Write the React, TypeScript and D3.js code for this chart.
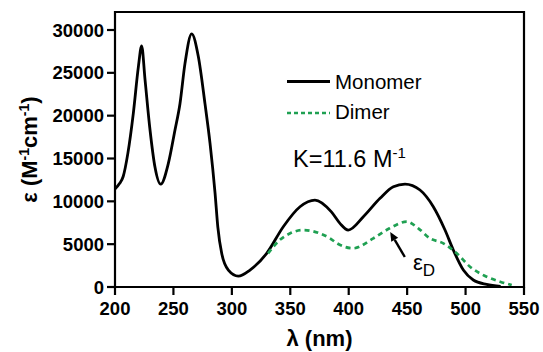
import * as d3 from 'd3';

const monoLambda = [200, 204, 207, 211, 215.7, 220, 222.8, 225.7, 230, 234.2, 239.1, 245.6, 251.3, 255.6, 259.9, 265.6, 271.3, 277, 281.3, 285.6, 288, 291.3, 297, 305.5, 315.5, 329.8, 344, 358.3, 371.1, 385, 392.5, 399.6, 412.5, 426.8, 438.2, 448.2, 461, 472.4, 482.4, 489.5, 498.1, 506.6, 518, 530];
const monoEps = [11450, 12100, 12900, 15600, 20300, 25700, 28150, 24200, 18300, 14000, 12000, 14400, 18300, 21400, 26100, 29550, 26900, 21400, 16800, 11000, 7000, 3930, 1980, 1280, 1980, 3930, 7040, 9370, 10150, 8800, 7430, 6650, 8200, 10350, 11700, 12020, 11320, 9370, 6650, 4320, 1980, 820, 300, 60];

const dimerLambda = [331, 341, 350, 361, 375, 384, 390, 404, 421, 435, 449.6, 459.5, 469.5, 481, 492.4, 503.8, 518, 529.5, 539.5];
const dimerEps = [3930, 5490, 6270, 6650, 6270, 5680, 5100, 4520, 5680, 6850, 7630, 6850, 5680, 5100, 3930, 2370, 1200, 620, 230];

const xTicks = [200, 250, 300, 350, 400, 450, 500, 550];
const yTicks = [0, 5000, 10000, 15000, 20000, 25000, 30000];

// annotation arrow (data coords): tail -> head
const arrowTail = [448, 3500];
const arrowHead = [435.5, 6420];
const labelPos = [455, 1980];

const W = 543;
const H = 352;
const m = { left: 115, right: 19, top: 12, bottom: 65 };
const FONT = 'Liberation Sans, Arial, sans-serif';
const GREEN = '#1fa052';

export default function App() {
  const x = d3.scaleLinear().domain([200, 550]).range([m.left, W - m.right]);
  const y = d3.scaleLinear().domain([0, 30000]).range([H - m.bottom, H - m.bottom - 257]);
  const yTop = m.top;
  const y0 = y(0);
  const xL = x(200);
  const xR = x(550);

  const line = d3
    .line<[number, number]>()
    .x(d => x(d[0]))
    .y(d => y(d[1]))
    .curve(d3.curveMonotoneX);

  const mono = monoLambda.map((l, i) => [l, monoEps[i]] as [number, number]);
  const dimer = dimerLambda.map((l, i) => [l, dimerEps[i]] as [number, number]);

  const ax1 = x(arrowTail[0]);
  const ay1 = y(arrowTail[1]);
  const ax2 = x(arrowHead[0]);
  const ay2 = y(arrowHead[1]);
  const ang = Math.atan2(ay2 - ay1, ax2 - ax1);
  const hl = 9;
  const hw = 4;
  const bx = ax2 - hl * Math.cos(ang);
  const by = ay2 - hl * Math.sin(ang);
  const head = `M${ax2},${ay2} L${bx + hw * Math.sin(ang)},${by - hw * Math.cos(ang)} L${bx - hw * Math.sin(ang)},${by + hw * Math.cos(ang)} Z`;

  return (
    <svg
      width={W}
      height={H}
      style={{ position: 'absolute', left: 0, top: 0, background: '#fff' }}
      fontFamily={FONT}
    >
      <rect width={W} height={H} fill="#fff" />
      {/* curves */}
      <path d={line(mono) ?? ''} fill="none" stroke="#000" strokeWidth={2.8} strokeLinejoin="round" />
      <path d={line(dimer) ?? ''} fill="none" stroke={GREEN} strokeWidth={2.7} strokeDasharray="5,4" />

      {/* frame */}
      <path d={`M${xL},${yTop} H${xR} V${y0} H${xL} Z`} fill="none" stroke="#000" strokeWidth={2.2} />

      {/* x ticks */}
      {xTicks.map(t => (
        <g key={t}>
          <line x1={x(t)} x2={x(t)} y1={y0} y2={y0 + 8} stroke="#000" strokeWidth={2.2} />
          <text x={x(t)} y={y0 + 28} textAnchor="middle" fontSize={18.5} fontWeight="bold">
            {t}
          </text>
        </g>
      ))}
      {/* y ticks */}
      {yTicks.map(t => (
        <g key={t}>
          <line x1={xL - 8} x2={xL} y1={y(t)} y2={y(t)} stroke="#000" strokeWidth={2.2} />
          <text x={xL - 11} y={y(t) + 6.5} textAnchor="end" fontSize={18.5} fontWeight="bold">
            {t}
          </text>
        </g>
      ))}

      {/* axis titles */}
      <text x={(xL + xR) / 2} y={346} textAnchor="middle" fontSize={22} fontWeight="bold">
        λ (nm)
      </text>
      <text
        transform={`translate(37,${(yTop + y0) / 2}) rotate(-90)`}
        textAnchor="middle"
        fontSize={22}
        fontWeight="bold"
      >
        ε (M<tspan dy={-8} fontSize={14}>-1</tspan>
        <tspan dy={8}>cm</tspan>
        <tspan dy={-8} fontSize={14}>-1</tspan>
        <tspan dy={8}>)</tspan>
      </text>

      {/* legend */}
      <line x1={287} x2={330} y1={81.5} y2={81.5} stroke="#000" strokeWidth={2.8} />
      <text x={335} y={88.5} fontSize={20.5}>Monomer</text>
      <line x1={287} x2={330} y1={113} y2={113} stroke={GREEN} strokeWidth={2.6} strokeDasharray="4,3" />
      <text x={335} y={119} fontSize={20.5}>Dimer</text>
      <text x={293} y={166.5} fontSize={23.5}>
        K=11.6 M<tspan dy={-9} fontSize={15}>-1</tspan>
      </text>

      {/* annotation */}
      <line x1={ax1} y1={ay1} x2={bx} y2={by} stroke="#000" strokeWidth={2.4} />
      <path d={head} fill="#000" />
      <text x={x(labelPos[0])} y={y(labelPos[1])} fontSize={22}>
        ε<tspan dy={6} fontSize={17}>D</tspan>
      </text>
    </svg>
  );
}
